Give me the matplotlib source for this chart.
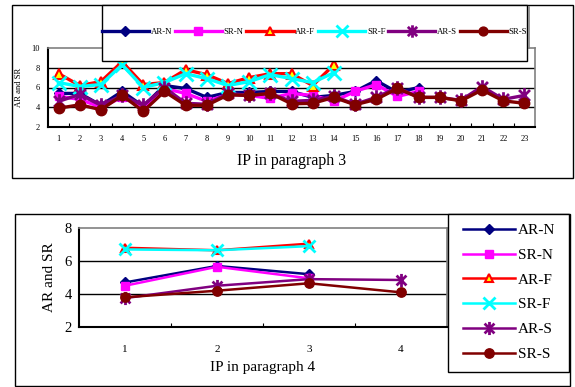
import numpy as np
import matplotlib
matplotlib.use("Agg")
import matplotlib.pyplot as plt
from matplotlib.path import Path
from matplotlib.patches import Rectangle

plt.rcParams['font.family'] = ['Liberation Serif', 'DejaVu Serif']

nan = np.nan

# paragraph 3 data (IP 1..23)
ip3 = list(range(1, 24))
ar_n_3 = [5.4, 5.4, 4.2, 5.6, 4.1, 6.2, 5.9, 5.0, 5.5, 5.5, 5.6, 5.6, 5.0, 5.2, 5.6, 6.7, 5.5, 6.0] + [nan] * 5
sr_n_3 = [5.1, 4.8, 4.0, 5.0, 4.0, 5.9, 5.4, 4.6, 5.3, 5.2, 4.9, 5.4, 5.2, 4.6, 5.6, 6.3, 5.1, 5.6] + [nan] * 5
ar_f_3 = [7.4, 6.2, 6.6, 8.6, 6.3, 6.5, 7.8, 7.3, 6.4, 7.0, 7.4, 7.4, 6.2, 8.3] + [nan] * 9
sr_f_3 = [6.5, 6.1, 6.3, 8.3, 6.0, 6.5, 7.4, 6.9, 6.2, 6.6, 7.3, 6.9, 6.5, 7.5] + [nan] * 9
ar_s_3 = [4.6, 5.3, 4.2, 5.2, 4.2, 6.0, 4.4, 4.3, 5.4, 5.2, 5.4, 4.6, 4.7, 5.1, 4.3, 5.0, 6.0, 5.0, 5.0, 4.7, 6.1, 4.8, 5.2]
sr_s_3 = [3.9, 4.25, 3.75, 5.2, 3.6, 5.6, 4.2, 4.2, 5.25, 5.2, 5.4, 4.35, 4.4, 5.0, 4.25, 4.8, 5.9, 5.0, 5.0, 4.65, 5.75, 4.65, 4.4]

# paragraph 4 data (IP 1..4)
ip4 = [1, 2, 3, 4]
ar_n_4 = [4.7, 5.7, 5.2, nan]
sr_n_4 = [4.5, 5.65, 4.95, nan]
ar_f_4 = [6.8, 6.65, 7.05, nan]
sr_f_4 = [6.7, 6.65, 6.9, nan]
ar_s_4 = [3.75, 4.5, 4.9, 4.85]
sr_s_4 = [3.8, 4.2, 4.65, 4.1]

names = ['AR-N', 'SR-N', 'AR-F', 'SR-F', 'AR-S', 'SR-S']

# excel style asterisk: x plus vertical bar
star = Path([(0, -1), (0, 1), (-0.75, -0.75), (0.75, 0.75), (-0.75, 0.75), (0.75, -0.75)],
            [Path.MOVETO, Path.LINETO, Path.MOVETO, Path.LINETO, Path.MOVETO, Path.LINETO])

styles = [
    dict(color='#000080', marker='D', mfc='#000080', mec='#000080', ms=5.5),
    dict(color='#FF00FF', marker='s', mfc='#FF00FF', mec='#FF00FF', ms=6),
    dict(color='#FF0000', marker='^', mfc='#FFFF00', mec='#FF0000', ms=6.5, mew=1.5),
    dict(color='#00FFFF', marker='x', mfc='none', mec='#00FFFF', ms=9.5, mew=2),
    dict(color='#800080', marker=star, mfc='none', mec='#800080', ms=10.5, mew=2),
    dict(color='#800000', marker='o', mfc='#800000', mec='#800000', ms=7.5),
]

W, H = 575, 387
fig = plt.figure(figsize=(W / 100, H / 100), dpi=100)


def px_box(x0, y0, x1, y1):
    # pixel box (top-left origin) -> figure fraction rect
    return [x0 / W, 1 - y1 / H, (x1 - x0) / W, (y1 - y0) / H]


def frame(x0, y0, x1, y1, lw=1.0, z=-1):
    r = Rectangle((x0 / W, 1 - y1 / H), (x1 - x0) / W, (y1 - y0) / H,
                  transform=fig.transFigure, fill=True, facecolor='white',
                  edgecolor='black', lw=lw, zorder=z)
    fig.patches.append(r)
    return r


def style_axes(ax, xs, ylim, yticks):
    ax.set_xlim(0.5, len(xs) + 0.5)
    ax.set_ylim(*ylim)
    ax.set_yticks(yticks)
    ax.set_xticks(xs)
    ax.set_xticks(np.arange(1.5, len(xs) + 0.5, 1), minor=True)
    ax.tick_params(axis='x', which='major', length=0)
    ax.tick_params(axis='x', which='minor', direction='in', length=3, width=0.8)
    ax.tick_params(axis='y', length=0)
    for s in ['top', 'right']:
        ax.spines[s].set_color('#808080')
        ax.spines[s].set_linewidth(1.2)
    for s in ['left', 'bottom']:
        ax.spines[s].set_color('black')
        ax.spines[s].set_linewidth(1.5)
    for v in yticks[1:-1]:
        ax.axhline(v, color='black', lw=1.0, zorder=0.5)
    ax.patch.set_alpha(0)


# ---------------- top chart: paragraph 3 ----------------
frame(12, 5, 573, 178)
ax1 = fig.add_axes(px_box(48, 48, 535, 127))
series3 = [ar_n_3, sr_n_3, ar_f_3, sr_f_3, ar_s_3, sr_s_3]
lines3 = []
for i, (vals, st) in enumerate(zip(series3, styles)):
    ln, = ax1.plot(ip3, vals, lw=2.4, label=names[i], zorder=2 + i, **st)
    lines3.append(ln)
style_axes(ax1, ip3, (2, 10), [2, 4, 6, 8, 10])
ax1.tick_params(axis='both', labelsize=6, pad=6)
ax1.set_xlabel('IP in paragraph 3', fontsize=11.5, labelpad=7)
ax1.set_ylabel('AR and SR', fontsize=6.2, labelpad=6)

# legend box of the top chart (sits over the plot area)
frame(102, 5, 527, 61, z=1)
fig.lines.append(plt.Line2D([529 / W, 529 / W], [1 - 7 / H, 1 - 48 / H],
                            transform=fig.transFigure, color='#808080', lw=1.2))
leg1 = fig.legend(handles=lines3, loc='center', ncol=6, frameon=False,
                  bbox_to_anchor=((102 + 527) / 2 / W, 1 - 32 / H),
                  fontsize=6.3, handlelength=5.4, handletextpad=0.2,
                  columnspacing=0.3, markerscale=0.85)
leg1.set_zorder(3)

# ---------------- bottom chart: paragraph 4 ----------------
frame(15, 214, 570, 386)
ax2 = fig.add_axes(px_box(79, 228, 447, 327))
series4 = [ar_n_4, sr_n_4, ar_f_4, sr_f_4, ar_s_4, sr_s_4]
lines4 = []
for i, (vals, st) in enumerate(zip(series4, styles)):
    st2 = dict(st)
    st2['ms'] = st['ms'] * 0.9
    ln, = ax2.plot(ip4, vals, lw=1.8, label=names[i], zorder=2 + i, **st2)
    lines4.append(ln)
style_axes(ax2, ip4, (2, 8), [2, 4, 6, 8])
ax2.tick_params(axis='y', labelsize=10.5, pad=5)
ax2.tick_params(axis='x', labelsize=8, pad=13)
ax2.set_xlabel('IP in paragraph 4', fontsize=11, labelpad=5)
ax2.set_ylabel('AR and SR', fontsize=11, labelpad=6)

frame(448, 214, 569, 372, z=1)
leg2 = fig.legend(handles=lines4, loc='upper left', frameon=False,
                  bbox_to_anchor=(452 / W, 1 - 213 / H),
                  fontsize=11, handlelength=3.4, handletextpad=0.2,
                  labelspacing=0.72, borderaxespad=0.3)
leg2.set_zorder(3)

fig.savefig('out.png', dpi=100)
